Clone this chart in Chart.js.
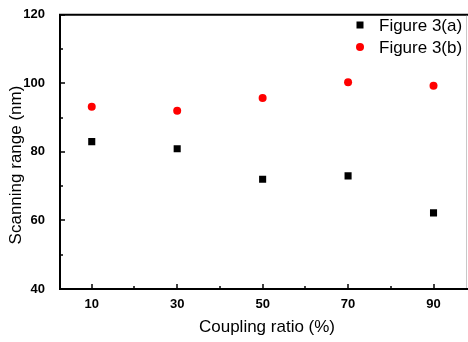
<!DOCTYPE html>
<html>
<head>
<meta charset="utf-8">
<script src="https://cdn.jsdelivr.net/npm/chart.js@4/dist/chart.umd.min.js"></script>
<style>
  html, body { margin: 0; padding: 0; background: #fff; }
  #wrap { width: 468px; height: 342px; position: relative; }
</style>
</head>
<body>
<div id="wrap"><canvas id="myChart"></canvas></div>
<script>
// --- data
var couplingRatio = [10, 30, 50, 70, 90];
var figure3a = [83.0, 80.9, 72.0, 73.0, 62.2];
var figure3b = [93.2, 92.0, 95.7, 100.3, 99.3];
var xTicks = [10, 30, 50, 70, 90];
var xMinorTicks = [20, 40, 60, 80];
var yTicks = [40, 60, 80, 100, 120];
var yMinorTicks = [50, 70, 90, 110];

var FONT = '"Liberation Sans", Arial, sans-serif';

function toPoints(xs, ys) {
    var pts = [];
    xs.forEach(function (x, i) { pts.push({ x: x, y: ys[i] }); });
    return pts;
}

// frame, inward ticks, axis titles and legend
var framePlugin = {
    id: 'frame',
    afterDraw: function (chart) {
        var ctx = chart.ctx;
        var a = chart.chartArea;
        var xs = chart.scales.x, ys = chart.scales.y;
        ctx.save();
        ctx.strokeStyle = '#000';
        ctx.lineWidth = 2;
        ctx.beginPath();
        ctx.moveTo(a.left - 1, a.top);
        ctx.lineTo(468, a.top);
        ctx.moveTo(a.left, a.top);
        ctx.lineTo(a.left, a.bottom + 1);
        ctx.moveTo(a.left - 1, a.bottom);
        ctx.lineTo(468, a.bottom);
        ctx.stroke();

        ctx.strokeStyle = '#c8c8c8';
        ctx.lineWidth = 1;
        ctx.beginPath();
        ctx.moveTo(466.5, a.top + 1);
        ctx.lineTo(466.5, a.bottom - 1);
        ctx.stroke();

        ctx.strokeStyle = '#000';
        ctx.lineWidth = 1.5;
        ctx.beginPath();
        xTicks.forEach(function (v) {
            var px = Math.round(xs.getPixelForValue(v));
            ctx.moveTo(px, a.bottom); ctx.lineTo(px, a.bottom - 5);
        });
        xMinorTicks.forEach(function (v) {
            var px = Math.round(xs.getPixelForValue(v));
            ctx.moveTo(px, a.bottom); ctx.lineTo(px, a.bottom - 3);
        });
        yTicks.forEach(function (v) {
            var py = Math.round(ys.getPixelForValue(v));
            ctx.moveTo(a.left, py); ctx.lineTo(a.left + 5, py);
        });
        yMinorTicks.forEach(function (v) {
            var py = Math.round(ys.getPixelForValue(v));
            ctx.moveTo(a.left, py); ctx.lineTo(a.left + 3, py);
        });
        ctx.stroke();

        // axis titles
        ctx.fillStyle = '#000';
        ctx.font = '17px ' + FONT;
        ctx.textAlign = 'center';
        ctx.textBaseline = 'middle';
        ctx.fillText('Coupling ratio (%)', 267, 327);
        ctx.save();
        ctx.translate(16, 165);
        ctx.rotate(-Math.PI / 2);
        ctx.fillText('Scanning range (nm)', 0, 0);
        ctx.restore();

        // legend
        var ds = chart.data.datasets;
        var rows = [25, 47];
        ds.forEach(function (d, i) {
            var y = rows[i];
            ctx.fillStyle = d.backgroundColor;
            if (d.pointStyle === 'rect') {
                ctx.fillRect(356.5, y - 3.5, 7, 7);
            } else {
                ctx.beginPath();
                ctx.arc(360, y, 4, 0, Math.PI * 2);
                ctx.fill();
            }
            ctx.fillStyle = '#000';
            ctx.textAlign = 'left';
            ctx.fillText(d.label, 379, y + 1);
        });
        ctx.restore();
    }
};

var ctx = document.getElementById('myChart');
var chart = new Chart(ctx, {
    type: 'scatter',
    data: {
        datasets: [{
            label: 'Figure 3(a)',
            data: toPoints(couplingRatio, figure3a),
            pointStyle: 'rect',
            pointRadius: 5,
            borderWidth: 0,
            backgroundColor: '#000000',
            borderColor: '#000000'
        }, {
            label: 'Figure 3(b)',
            data: toPoints(couplingRatio, figure3b),
            pointStyle: 'circle',
            pointRadius: 4,
            borderWidth: 0,
            backgroundColor: '#ff0000',
            borderColor: '#ff0000'
        }]
    },
    options: {
        responsive: true,
        maintainAspectRatio: false,
        animation: false,
        layout: { padding: { top: 13, left: 0, right: 2, bottom: 0 } },
        plugins: {
            legend: { display: false },
            tooltip: { enabled: false }
        },
        scales: {
            x: {
                type: 'linear',
                min: 2.57,
                max: 96.9,
                grid: { display: false },
                border: { display: false },
                afterBuildTicks: function (scale) {
                    scale.ticks = xTicks.map(function (v) { return { value: v }; });
                },
                afterFit: function (scale) { scale.height = 53; },
                ticks: {
                    padding: 0,
                    color: '#000',
                    maxRotation: 0,
                    font: { family: FONT, size: 13, weight: 'bold' }
                }
            },
            y: {
                type: 'linear',
                min: 40,
                max: 120,
                grid: { display: false },
                border: { display: false },
                afterBuildTicks: function (scale) {
                    scale.ticks = yTicks.map(function (v) { return { value: v }; });
                },
                afterFit: function (scale) { scale.width = 60; },
                ticks: {
                    padding: 7,
                    color: '#000',
                    font: { family: FONT, size: 13, weight: 'bold' }
                }
            }
        }
    },
    plugins: [framePlugin]
});
</script>
</body>
</html>
